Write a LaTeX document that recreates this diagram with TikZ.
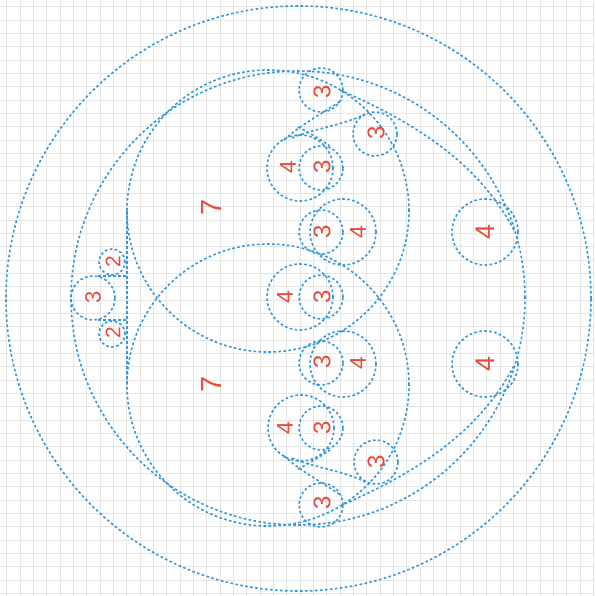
\documentclass[tikz,border=0pt]{standalone}
\usepackage{fontspec}
\setmainfont{Liberation Sans}
\definecolor{ringblue}{HTML}{3498DB}
\definecolor{numred}{HTML}{E74C3C}
\begin{document}
\begin{tikzpicture}[x=1pt,y=-1pt,
  ring/.style={draw=ringblue, line width=1.6pt, dash pattern=on 2.6pt off 2.4pt},
  num/.style={text=numred, rotate=90, inner sep=0pt, font=\fontsize{#1}{#1}\selectfont},
  num/.default=24]
\useasboundingbox (0,0) rectangle (595,596);
\fill[white] (0,0) rectangle (595,596);
% grid
\foreach \i in {0,...,44} {
  \draw[black!10, line width=0.7pt] ({6.667+13.333*\i},0) -- ++(0,596);
  \draw[black!10, line width=0.7pt] (0,{6.667+13.333*\i}) -- ++(595,0);
}

% big rings
\draw[ring] (298.5,298.5) circle[radius=292.5pt];
\draw[ring] (298,298) circle[radius=227pt];
\draw[ring] (268,211) circle[radius=141pt];
\draw[ring] (268,385) circle[radius=141pt];
\draw[ring] (127,211) -- (127,385);

% inner arcs next to the outer ring
\draw[ring] (340,90) .. controls (420,125) and (480,165) .. (515,232);
\draw[ring] (340,506) .. controls (420,471) and (480,431) .. (515,364);

% left group
\draw[ring] (93,298) circle[radius=22pt];
\draw[ring] (112,262) circle[radius=13pt];
\draw[ring] (112,334) circle[radius=13pt];
\draw[ring] (98,276) -- (127,276);
\draw[ring] (98,320) -- (127,320);

% small rings
\foreach \cx/\cy in {321/90, 375/134, 321/168, 321/232, 321/297, 321/363, 321/428, 376/462, 321/505}
  \draw[ring] (\cx,\cy) circle[radius=22pt];
\foreach \cx/\cy in {300/168, 343/232, 300/297, 343/364, 301/428, 485/232, 485/364}
  \draw[ring] (\cx,\cy) circle[radius=33pt];

% links between the small rings
\draw[ring] (284,140) .. controls (300,125) and (325,112) .. (342,100);
\draw[ring] (292,138) .. controls (315,128) and (345,125) .. (365,114);
\draw[ring] (298,127) .. controls (308,132) and (318,138) .. (330,146);
\draw[ring] (284,456) .. controls (300,471) and (325,484) .. (342,496);
\draw[ring] (292,458) .. controls (315,468) and (345,471) .. (365,482);
\draw[ring] (298,469) .. controls (308,464) and (318,458) .. (330,450);

% labels
\node[num=29] (s1) at (212,207) {7};
\node[num=29] (s2) at (212,384) {7};
\node[num=23] (f1) at (288,167) {4};
\node[num=23] (f2) at (358,232) {4};
\node[num=23] (f3) at (285,297) {4};
\node[num=23] (f4) at (358,363) {4};
\node[num=23] (f5) at (285,428) {4};
\node[num=27] (f6) at (485,232) {4};
\node[num=27] (f7) at (485,364) {4};
\node[num] (t1) at (322,92) {3};
\node[num] (t2) at (376,133) {3};
\node[num] (t3) at (322,167) {3};
\node[num] (t4) at (322,232) {3};
\node[num] (t5) at (322,297) {3};
\node[num] (t6) at (322,362) {3};
\node[num] (t7) at (322,428) {3};
\node[num] (t8) at (376,462) {3};
\node[num] (t9) at (322,503) {3};
\node[num=22] (t0) at (93,297) {3};
\node[num=21] (w1) at (113,262) {2};
\node[num=21] (w2) at (113,333) {2};
\end{tikzpicture}
\end{document}
